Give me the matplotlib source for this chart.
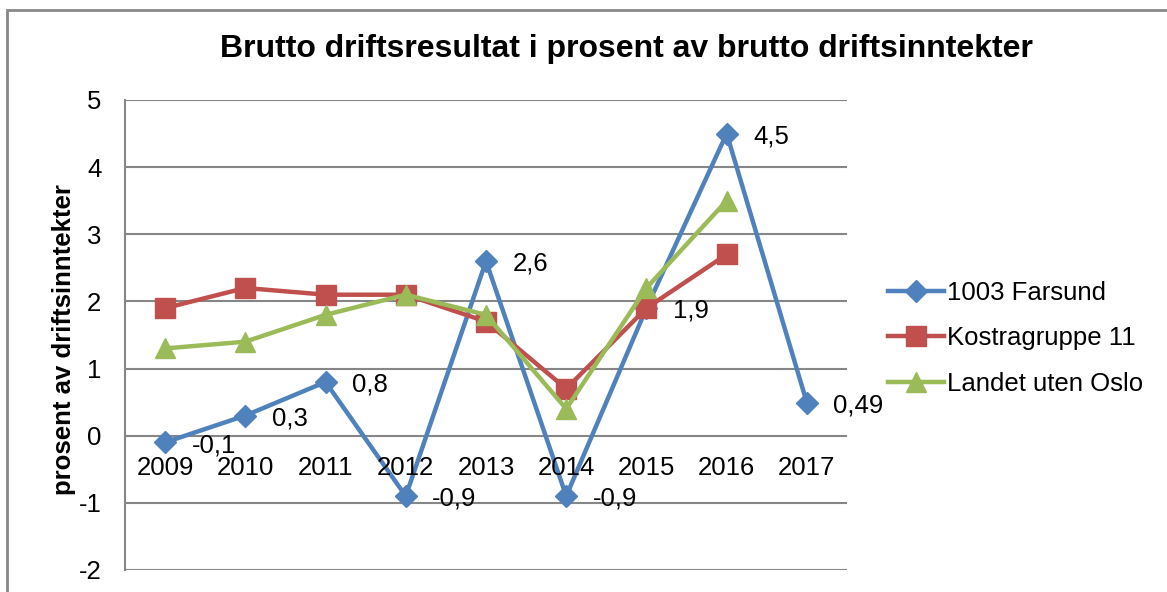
import matplotlib.pyplot as plt
from matplotlib.patches import Rectangle

plt.rcParams['font.family'] = ['Liberation Sans', 'DejaVu Sans']

years = ['2009', '2010', '2011', '2012', '2013', '2014', '2015', '2016', '2017']
farsund = [-0.1, 0.3, 0.8, -0.9, 2.6, -0.9, 1.9, 4.5, 0.49]
farsund_labels = ['-0,1', '0,3', '0,8', '-0,9', '2,6', '-0,9', '1,9', '4,5', '0,49']
kostra = [1.9, 2.2, 2.1, 2.1, 1.7, 0.7, 1.9, 2.7]
landet = [1.3, 1.4, 1.8, 2.1, 1.8, 0.4, 2.2, 3.5]
yticks = [-2, -1, 0, 1, 2, 3, 4, 5]

fs = 18.5

fig = plt.figure(figsize=(11.67, 5.92), dpi=100)
ax = fig.add_axes([0.1071, 0.0372, 0.6187, 0.7939])

# outer chart frame
fig.patches.append(Rectangle((0.006, -0.1), 1.2, 1.083, transform=fig.transFigure,
                             fill=False, edgecolor='#888888', linewidth=2))

x = list(range(len(years)))
ax.plot(x, farsund, color='#4F81BD', lw=3.2, marker='D', ms=11, label='1003 Farsund', zorder=3)
ax.plot(x[:len(kostra)], kostra, color='#C0504D', lw=3.2, marker='s', ms=14, label='Kostragruppe 11', zorder=3)
ax.plot(x[:len(landet)], landet, color='#9BBB59', lw=3.2, marker='^', ms=14, label='Landet uten Oslo', zorder=4)

for xi, yi, lab in zip(x, farsund, farsund_labels):
    ax.annotate(lab, (xi, yi), xytext=(19, -2), textcoords='offset points',
                va='center', ha='left', fontsize=fs)

for xi, lab in zip(x, years):
    ax.annotate(lab, (xi, 0), xytext=(0, -23), textcoords='offset points',
                va='center', ha='center', fontsize=fs)

ax.set_xlim(-0.5, 8.5)
ax.set_ylim(-2, 5)
ax.set_yticks(yticks)
ax.set_yticklabels([str(v) for v in yticks], fontsize=fs)
ax.set_xticks([])
ax.tick_params(axis='y', length=0, pad=17)
ax.grid(axis='y', color='#868686', lw=1.5)
ax.set_axisbelow(True)
for s in ['top', 'right', 'bottom']:
    ax.spines[s].set_visible(False)
ax.spines['left'].set_color('#868686')
ax.spines['left'].set_linewidth(1.5)

ax.set_ylabel('prosent av driftsinntekter', fontsize=fs, fontweight='bold')
ax.yaxis.set_label_coords(-0.068, 0.49)
fig.text(0.537, 0.918, 'Brutto driftsresultat i prosent av brutto driftsinntekter',
         ha='center', va='center', fontsize=23, fontweight='bold')

ax.legend(loc='center left', bbox_to_anchor=(1.042, 0.493), frameon=False, fontsize=fs,
          handlelength=2.2, handletextpad=0.1, labelspacing=0.83, borderaxespad=0)

fig.savefig('out.png', dpi=100)
